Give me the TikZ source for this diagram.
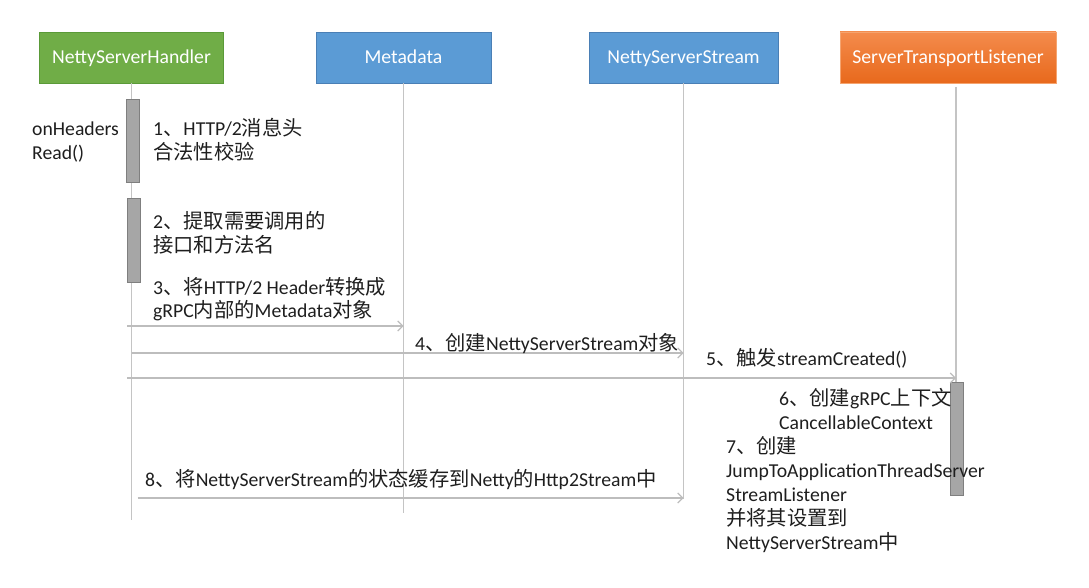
\documentclass[tikz,border=0pt]{standalone}
\usepackage{fontspec}
\setmainfont{Carlito}
\newfontfamily\cjkfont[Scale=1.03]{Noto Sans CJK SC}
\newcommand{\zh}[1]{{\cjkfont #1}}
\usetikzlibrary{arrows.meta}
\definecolor{hgreen}{HTML}{70AD47}
\definecolor{hgreenD}{HTML}{5A9A38}
\definecolor{mblue}{HTML}{5B9BD5}
\definecolor{mblueD}{HTML}{4A7FB5}
\definecolor{otop}{HTML}{F48B4C}
\definecolor{obot}{HTML}{E8691C}
\definecolor{oline}{HTML}{F5A46F}
\definecolor{lifec}{HTML}{C4C4C4}
\definecolor{msgc}{HTML}{BDBDBD}
\definecolor{barF}{HTML}{A6A6A6}
\definecolor{barD}{HTML}{7F7F7F}
\definecolor{txt}{HTML}{1E1E1E}
\begin{document}
\begin{tikzpicture}[x=1pt,y=-1pt,
  actor/.style={minimum height=51pt, inner sep=0pt, line width=0.9pt, text=white,
    text height=15pt, text depth=3pt,
    font=\fontsize{19.7}{23.5}\selectfont},
  life/.style={draw=lifec, line width=1.4pt},
  msg/.style={draw=msgc, line width=1.2pt, -{Straight Barb[length=5pt,width=10pt,line width=1.1pt]}},
  actbar/.style={draw=barD, fill=barF, line width=0.8pt, minimum width=13pt, inner sep=0pt},
  lbl/.style={anchor=base west, align=left, inner sep=0pt, text=txt,
    font=\fontsize{19.7}{23.5}\selectfont},
]
\useasboundingbox (0,0) rectangle (1089,588);

% actors
\node[actor, fill=hgreen, draw=hgreenD, minimum width=184pt] (h) at (131.5,57.5) {NettyServerHandler};
\node[actor, fill=mblue, draw=mblueD, minimum width=175pt] (m) at (403.5,57.5) {Metadata};
\node[actor, fill=mblue, draw=mblueD, minimum width=189pt] (n) at (683.5,57.5) {NettyServerStream};
\node[actor, top color=otop, bottom color=obot, draw=oline, minimum width=216pt] (s) at (948,57.5) {ServerTransportListener};

% lifeline ends
\coordinate (hend) at (131.5,520);
\coordinate (mend) at (403.5,513);
\coordinate (nend) at (683.5,499);
\coordinate (stop) at (956,87);
\coordinate (send) at (956,490);

\draw[life] (h.south) -- (hend);
\draw[life] (m.south) -- (mend);
\draw[life] (n.south) -- (nend);
\draw[life] (stop) -- (send);

% activation bars
\node[actbar, minimum height=83pt] (b1) at (132.5,140.5) {};
\node[actbar, minimum height=84pt] (b2) at (133.5,240) {};
\node[actbar, minimum height=113pt] (b3) at (957.3,438.5) {};

% message start points
\coordinate (s3) at (127,326);
\coordinate (s4) at (131.5,353);
\coordinate (s5) at (127,378);
\coordinate (s8) at (137.5,498);

\draw[msg] (s3) -- (s3 -| m.south);
\draw[msg] (s4) -- (s4 -| n.south);
\draw[msg] (s5) -- (s5 -| stop);
\draw[msg] (s8) -- (s8 -| n.south);

% labels (anchor = baseline of last line)
\node[lbl] (l0) at (32,159.5) {onHeaders\\Read()};
\node[lbl] (l1) at (153,159.5) {1\zh{、}HTTP/2\zh{消息头}\\\zh{合法性校验}};
\node[lbl] (l2) at (153,252) {2\zh{、提取需要调用的}\\\zh{接口和方法名}};
\node[lbl] (l3) at (153,317.5) {3\zh{、将}HTTP/2 Header\zh{转换成}\\gRPC\zh{内部的}Metadata\zh{对象}};
\node[lbl] (l4) at (415,350) {4\zh{、创建}NettyServerStream\zh{对象}};
\node[lbl] (l5) at (706,365) {5\zh{、触发}streamCreated()};
\node[lbl] (l6) at (779,429) {6\zh{、创建}gRPC\zh{上下文}\\CancellableContext};
\node[lbl, font=\fontsize{19.7}{24}\selectfont] (l7) at (726,549.5) {7\zh{、创建}\\JumpToApplicationThreadServer\\StreamListener\\\zh{并将其设置到}\\NettyServerStream\zh{中}};
\node[lbl] (l8) at (145,486) {8\zh{、将}NettyServerStream\zh{的状态缓存到}Netty\zh{的}Http2Stream\zh{中}};
\end{tikzpicture}
\end{document}
